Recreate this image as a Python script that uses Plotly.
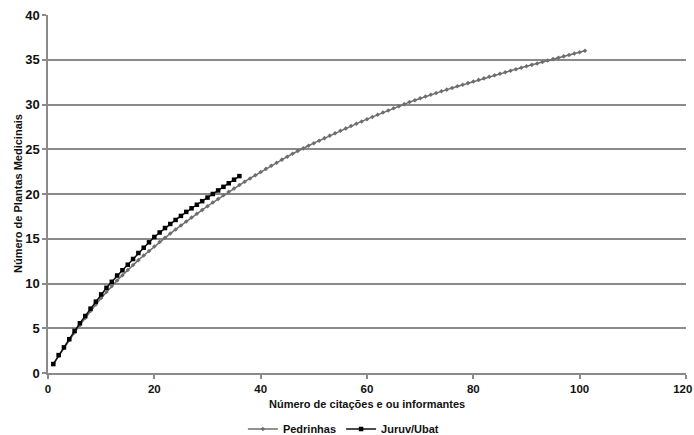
import plotly.graph_objects as go

# Pedrinhas: x = 1..101
ped_x = list(range(1, 102))
ped_y = [1.00, 1.92, 2.82, 3.69, 4.53, 5.35, 6.15, 6.92, 7.66, 8.37,
         9.05, 9.71, 10.33, 10.93, 11.51, 12.07, 12.61, 13.13, 13.64, 14.14,
         14.63, 15.11, 15.58, 16.04, 16.49, 16.93, 17.37, 17.80, 18.22, 18.64,
         19.05, 19.45, 19.85, 20.24, 20.62, 21.00, 21.37, 21.74, 22.10, 22.46,
         22.81, 23.16, 23.50, 23.84, 24.17, 24.50, 24.82, 25.10, 25.39, 25.68,
         25.96, 26.24, 26.52, 26.79, 27.06, 27.33, 27.59, 27.85, 28.11, 28.36,
         28.61, 28.86, 29.10, 29.34, 29.58, 29.81, 30.04, 30.27, 30.48, 30.69,
         30.89, 31.09, 31.28, 31.47, 31.66, 31.85, 32.03, 32.21, 32.39, 32.57,
         32.75, 32.92, 33.10, 33.27, 33.44, 33.61, 33.78, 33.94, 34.11, 34.27,
         34.43, 34.59, 34.75, 34.91, 35.07, 35.22, 35.38, 35.53, 35.69, 35.84,
         36.00]

# Juruv/Ubat: x = 1..36
jur_x = list(range(1, 37))
jur_y = [1.0, 2.0, 2.86, 3.78, 4.70, 5.56, 6.37, 7.19, 7.97, 8.78,
         9.52, 10.19, 10.89, 11.48, 12.10, 12.74, 13.41, 14.00, 14.60, 15.20,
         15.70, 16.20, 16.65, 17.10, 17.55, 18.00, 18.40, 18.80, 19.20, 19.60,
         20.00, 20.40, 20.80, 21.20, 21.60, 22.00]

x_ticks = [0, 20, 40, 60, 80, 100, 120]
y_ticks = [0, 5, 10, 15, 20, 25, 30, 35, 40]

FONT = "Arial, Liberation Sans, sans-serif"
GRID = "#8a8a8a"

# last x label padded so it stays inside the window
x_ticktext = [f"<b>{v}</b>" for v in x_ticks]
x_ticktext[-1] = x_ticktext[-1] + "\u00a0\u00a0"

fig = go.Figure()
fig.add_trace(go.Scatter(
    x=ped_x, y=ped_y, name="<b>Pedrinhas</b>", mode="lines+markers",
    line=dict(color="#6e6e6e", width=1.5),
    marker=dict(symbol="diamond", size=3.5, color="#6e6e6e"),
))
fig.add_trace(go.Scatter(
    x=jur_x, y=jur_y, name="<b>Juruv/Ubat</b>", mode="lines+markers",
    line=dict(color="#111111", width=1.5),
    marker=dict(symbol="square", size=4.5, color="#000000"),
))

fig.update_layout(
    width=694, height=435,
    margin=dict(l=48, r=8, t=15, b=62, autoexpand=False),
    paper_bgcolor="white", plot_bgcolor="white",
    font=dict(family=FONT, size=12, color="#111111"),
    showlegend=True,
    legend=dict(orientation="h", x=0.463, xanchor="center",
                yref="container", y=0.014, yanchor="middle",
                font=dict(family=FONT, size=11, color="#111111"),
                itemwidth=30, tracegroupgap=0),
    annotations=[
        dict(text="<b>Número de citações e ou informantes</b>", xref="paper", yref="paper",
             x=0.5, y=-0.087, xanchor="center", yanchor="middle", showarrow=False,
             font=dict(family=FONT, size=11, color="#111111")),
        dict(text="<b>Número de Plantas Medicinais</b>", xref="paper", yref="paper",
             x=-0.047, y=0.5, xanchor="center", yanchor="middle", showarrow=False,
             textangle=-90,
             font=dict(family=FONT, size=11, color="#111111")),
    ],
)
fig.update_xaxes(
    range=[0, 120], tickvals=x_ticks, ticktext=x_ticktext,
    showgrid=False, zeroline=False, automargin=False, ticklabeloverflow="allow",
    showline=True, linecolor=GRID, linewidth=1.5,
    ticks="outside", ticklen=4, tickcolor=GRID, tickwidth=1.5,
    tickfont=dict(family=FONT, size=11.5, color="#111111"),
)
fig.update_yaxes(
    range=[0, 40], tickvals=y_ticks, ticktext=[f"<b>{v}</b>" for v in y_ticks],
    showgrid=True, gridcolor=GRID, gridwidth=1.5, zeroline=False, automargin=False,
    showline=True, linecolor=GRID, linewidth=1.5,
    ticks="outside", ticklen=4, tickcolor=GRID, tickwidth=1.5,
    tickfont=dict(family=FONT, size=13, color="#111111"),
)

fig.write_html("out.html", config={"displayModeBar": False},
               post_script="document.body.style.margin='0';document.body.style.overflow='hidden';")
